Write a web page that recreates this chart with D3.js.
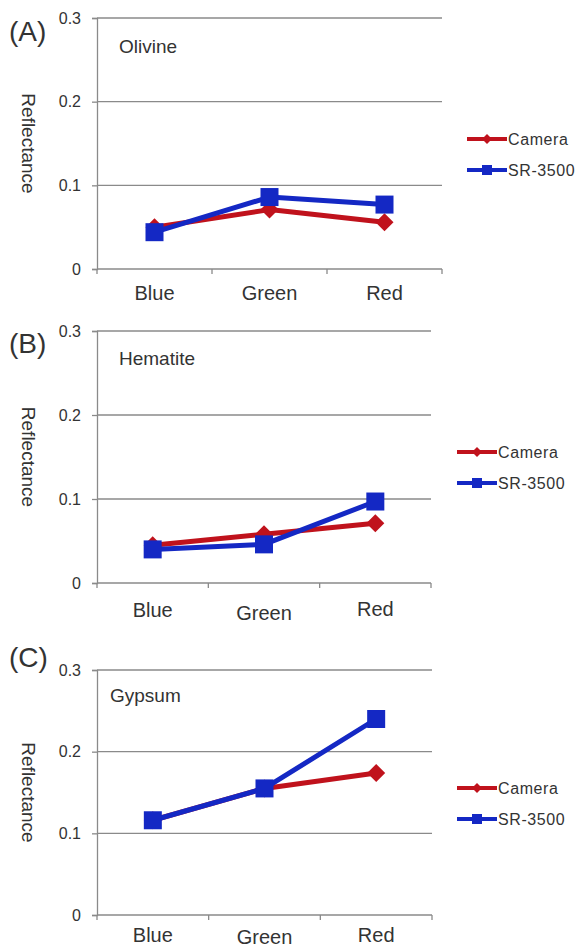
<!DOCTYPE html>
<html>
<head>
<meta charset="utf-8">
<script src="https://cdn.jsdelivr.net/npm/d3@7"></script>
<style>
  body { margin: 0; background: #fff; }
  text { font-family: Arial, "Liberation Sans", sans-serif; fill: #333; }
</style>
</head>
<body>
<svg id="chart" width="579" height="947"></svg>
<script>
// values
var categories = ["Blue", "Green", "Red"];
var minerals = ["Olivine", "Hematite", "Gypsum"];
var panelLabels = ["(A)", "(B)", "(C)"];
var cameraValues = [
  [0.050, 0.071, 0.056],
  [0.045, 0.058, 0.071],
  [0.116, 0.155, 0.174]
];
var srValues = [
  [0.044, 0.086, 0.077],
  [0.040, 0.046, 0.097],
  [0.116, 0.155, 0.240]
];
var yTicks = [0, 0.1, 0.2, 0.3];
var seriesNames = ["Camera", "SR-3500"];

// layout of each panel (px)
var panels = [
  {left: 97, right: 442, top: 18, bottom: 269, legY: 139, legX: 467, labY: 30, catDy: [31, 31, 31], minX: 119, minY: 53},
  {left: 97, right: 431, top: 331, bottom: 583, legY: 452, legX: 457, labY: 342, catDy: [34, 37, 33], minX: 119, minY: 365},
  {left: 97, right: 432, top: 670, bottom: 915, legY: 788, legX: 457, labY: 656, catDy: [27, 29, 27], minX: 110, minY: 702}
];

var red = "#c0121c", blue = "#1428c4", grid = "#8a8a8a";
var svg = d3.select("#chart");

function diamond(g, x, y, r, col) {
  g.append("path")
    .attr("d", "M" + x + "," + (y - r) + "L" + (x + r) + "," + y + "L" + x + "," + (y + r) + "L" + (x - r) + "," + y + "Z")
    .attr("fill", col);
}

panels.forEach(function(p, i) {
  var g = svg.append("g");
  var x = d3.scaleBand().domain(categories).range([p.left, p.right]);
  var y = d3.scaleLinear().domain([0, 0.3]).range([p.bottom, p.top]);

  // gridlines
  g.selectAll(".grid").data(yTicks.slice(1)).enter().append("line")
    .attr("x1", p.left).attr("x2", p.right)
    .attr("y1", function(d){ return y(d); }).attr("y2", function(d){ return y(d); })
    .attr("stroke", grid).attr("stroke-width", 1.3);

  // y axis
  var yAxis = g.append("g").attr("transform", "translate(" + p.left + ",0)")
    .call(d3.axisLeft(y).tickValues(yTicks).tickSize(5).tickPadding(11)
      .tickFormat(function(d){ return d === 0 ? "0" : d3.format(".1f")(d); }));
  yAxis.select(".domain").attr("stroke", grid).attr("stroke-width", 1.3);
  yAxis.selectAll(".tick line").attr("stroke", grid).attr("stroke-width", 1.3);
  yAxis.selectAll("text").attr("font-size", 16).attr("fill", "#444").style("font-family", "Arial, 'Liberation Sans', sans-serif");

  // x axis
  var bounds = [p.left].concat(categories.map(function(c){ return x(c) + x.bandwidth(); }));
  g.append("line").attr("x1", p.left).attr("x2", p.right).attr("y1", p.bottom).attr("y2", p.bottom)
    .attr("stroke", grid).attr("stroke-width", 1.3);
  g.selectAll(".xt").data(bounds).enter().append("line")
    .attr("x1", function(d){ return d; }).attr("x2", function(d){ return d; })
    .attr("y1", p.bottom).attr("y2", p.bottom + 5)
    .attr("stroke", grid).attr("stroke-width", 1.3);
  g.selectAll(".xl").data(categories).enter().append("text")
    .attr("x", function(c){ return x(c) + x.bandwidth() / 2; })
    .attr("y", function(c, j){ return p.bottom + p.catDy[j]; })
    .attr("text-anchor", "middle").attr("font-size", 20)
    .text(function(c){ return c; });

  // axis title
  g.append("text")
    .attr("transform", "translate(22," + (p.top + p.bottom) / 2 + ") rotate(90)")
    .attr("text-anchor", "middle").attr("font-size", 19)
    .text("Reflectance");

  // panel letter and mineral name
  g.append("text").attr("x", 9).attr("y", p.labY + 11).attr("font-size", 28).attr("fill", "#222").text(panelLabels[i]);
  g.append("text").attr("x", p.minX).attr("y", p.minY).attr("font-size", 19).text(minerals[i]);

  var line = d3.line()
    .x(function(d, j){ return x(categories[j]) + x.bandwidth() / 2; })
    .y(function(d){ return y(d); });

  // camera series
  g.append("path").datum(cameraValues[i]).attr("d", line)
    .attr("fill", "none").attr("stroke", red).attr("stroke-width", 5).attr("stroke-linejoin", "round");
  cameraValues[i].forEach(function(v, j){
    diamond(g, x(categories[j]) + x.bandwidth() / 2, y(v), 9, red);
  });

  // SR-3500 series
  g.append("path").datum(srValues[i]).attr("d", line)
    .attr("fill", "none").attr("stroke", blue).attr("stroke-width", 5).attr("stroke-linejoin", "round");
  g.selectAll(".sq").data(srValues[i]).enter().append("rect")
    .attr("x", function(d, j){ return x(categories[j]) + x.bandwidth() / 2 - 9; })
    .attr("y", function(d){ return y(d) - 9; })
    .attr("width", 18).attr("height", 18).attr("fill", blue);

  // legend
  seriesNames.forEach(function(name, k){
    var ly = p.legY + k * 31, col = k === 0 ? red : blue;
    g.append("line").attr("x1", p.legX).attr("x2", p.legX + 40).attr("y1", ly).attr("y2", ly)
      .attr("stroke", col).attr("stroke-width", 4);
    if (k === 0) diamond(g, p.legX + 20, ly, 5, col);
    else g.append("rect").attr("x", p.legX + 15).attr("y", ly - 5).attr("width", 10).attr("height", 10).attr("fill", col);
    g.append("text").attr("x", p.legX + 41).attr("y", ly + 6).attr("font-size", 16)
      .attr("letter-spacing", 0.6).text(name);
  });
});
</script>
</body>
</html>
